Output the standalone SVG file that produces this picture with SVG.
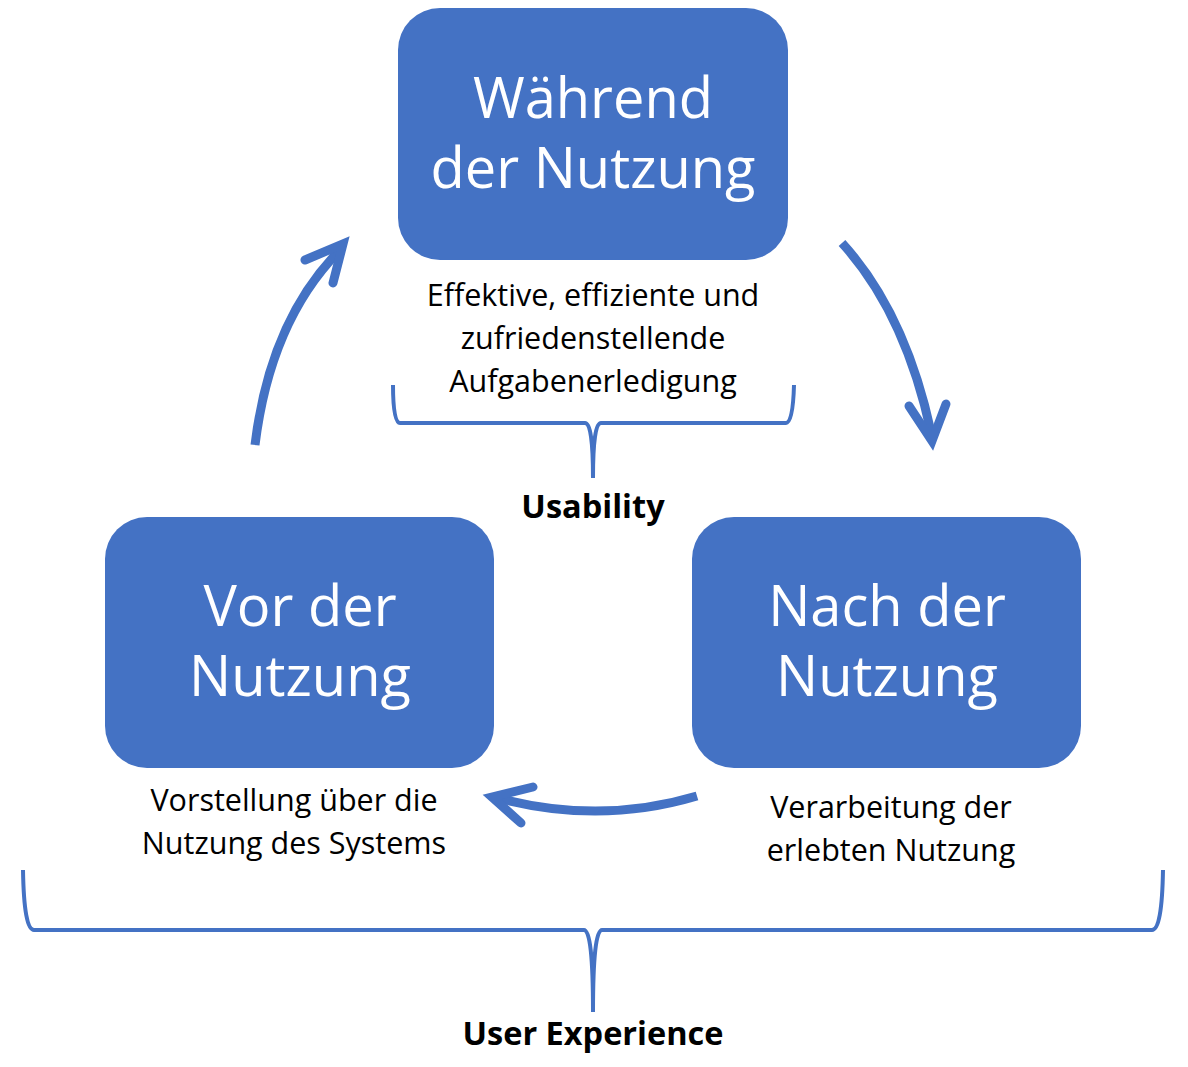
<svg xmlns="http://www.w3.org/2000/svg" width="1188" height="1067" viewBox="0 0 1188 1067">
<style>
.box{fill:#4472C4}
.title{font-family:"Open Sans","Noto Sans",sans-serif;font-size:56px;fill:#fff;text-anchor:middle}
.sub{font-family:"Open Sans","Noto Sans",sans-serif;font-size:30.5px;fill:#000;text-anchor:middle}
.lbl{font-family:"Open Sans","Noto Sans",sans-serif;font-size:32.5px;font-weight:bold;fill:#000;text-anchor:middle}
.arr{fill:none;stroke:#4472C4;stroke-width:9;stroke-linecap:butt}
.head{fill:none;stroke:#4472C4;stroke-width:9;stroke-linecap:round;stroke-linejoin:miter}
.brace{fill:none;stroke:#4472C4;stroke-width:4}
</style>
<rect width="1188" height="1067" fill="#fff"/>
<g id="node-waehrend">
<rect class="box" x="398" y="8" width="390" height="252" rx="42"/>
<text class="title" x="593" y="118">Während</text>
<text class="title" x="593" y="188">der Nutzung</text>
</g>
<g id="node-vor">
<rect class="box" x="105" y="517" width="389" height="251" rx="42"/>
<text class="title" x="300" y="626">Vor der</text>
<text class="title" x="300" y="696">Nutzung</text>
</g>
<g id="node-nach">
<rect class="box" x="692" y="517" width="389" height="251" rx="42"/>
<text class="title" x="887" y="626">Nach der</text>
<text class="title" x="887" y="696">Nutzung</text>
</g>
<g id="text-usability-desc">
<text class="sub" x="593" y="306">Effektive, effiziente und</text>
<text class="sub" x="593" y="349">zufriedenstellende</text>
<text class="sub" x="593" y="392">Aufgabenerledigung</text>
</g>
<g id="text-vor-desc">
<text class="sub" x="294" y="811">Vorstellung über die</text>
<text class="sub" x="294" y="854">Nutzung des Systems</text>
</g>
<g id="text-nach-desc">
<text class="sub" x="891" y="818">Verarbeitung der</text>
<text class="sub" x="891" y="861">erlebten Nutzung</text>
</g>
<g id="label-usability"><text class="lbl" x="593" y="518">Usability</text></g>
<g id="label-ux"><text class="lbl" x="593" y="1045">User Experience</text></g>
<g id="connectors">
<path class="arr" d="M255,445 Q270,322 338,252"/>
<polyline class="head" points="305,260 343,244 333,283"/>
<path class="arr" d="M842,243 Q905,312 931,432"/>
<polyline class="head" points="909,406 932,441 946,404"/>
<path class="arr" d="M697,796 Q600,825 498,798"/>
<polyline class="head" points="533,787 492,797 521,823"/>
<path class="brace" d="M393,385 Q393,423 400,423 L585,423 Q593,423 593,478 Q593,423 601,423 L786,423 Q793,423 794,385"/>
<path class="brace" d="M23,870 Q24,930 34,930 L584,930 Q593,930 593,1012 Q593,930 602,930 L1152,930 Q1162,930 1163,870"/>
</g>
</svg>
